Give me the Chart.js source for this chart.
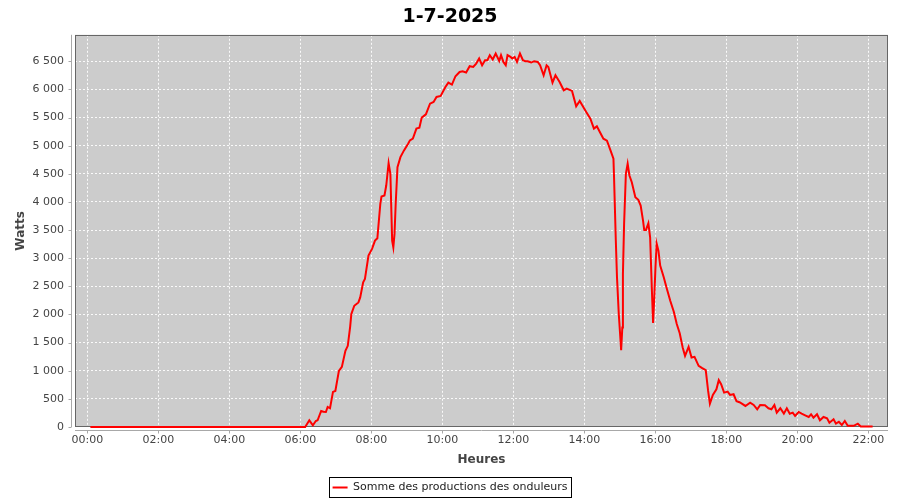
<!DOCTYPE html>
<html>
<head>
<meta charset="utf-8">
<script src="https://cdn.jsdelivr.net/npm/chart.js@4/dist/chart.umd.min.js"></script>
<style>
  html, body { margin: 0; padding: 0; background: #fff; }
  #wrap { width: 900px; height: 500px; }
</style>
</head>
<body>
<div id="wrap"><canvas id="c" width="900" height="500"></canvas></div>
<script>
// Production du 1-7-2025 (heure, watts)
const heures = [
  '00:05', '02:00', '04:00', '06:05', '06:08', '06:15', '06:21', '06:26', '06:29', '06:35',
  '06:39', '06:43', '06:46', '06:50', '06:55', '06:59', '07:05', '07:10', '07:16', '07:20',
  '07:24', '07:26', '07:31', '07:38', '07:41', '07:46', '07:49', '07:55', '08:01', '08:06',
  '08:10', '08:15', '08:17', '08:22', '08:25', '08:29', '08:32', '08:35', '08:37', '08:39',
  '08:41', '08:44', '08:49', '08:55', '09:02', '09:05', '09:10', '09:16', '09:21', '09:25',
  '09:32', '09:39', '09:45', '09:50', '09:57', '10:05', '10:10', '10:16', '10:22', '10:29',
  '10:34', '10:40', '10:46', '10:52', '10:57', '11:02', '11:07', '11:12', '11:16', '11:20',
  '11:25', '11:30', '11:36', '11:39', '11:43', '11:47', '11:50', '11:55', '11:58', '12:02',
  '12:06', '12:11', '12:16', '12:20', '12:24', '12:30', '12:35', '12:41', '12:45', '12:51',
  '12:56', '12:59', '13:06', '13:11', '13:18', '13:25', '13:30', '13:39', '13:46', '13:52',
  '13:58', '14:03', '14:10', '14:16', '14:21', '14:26', '14:32', '14:38', '14:44', '14:49',
  '14:50', '14:53', '14:55', '14:58', '15:01', '15:02', '15:04', '15:05', '15:07', '15:10',
  '15:13', '15:16', '15:20', '15:26', '15:31', '15:35', '15:39', '15:41', '15:44', '15:48',
  '15:51', '15:54', '15:56', '15:58', '16:00', '16:02', '16:05', '16:08', '16:14', '16:19',
  '16:25', '16:31', '16:36', '16:41', '16:46', '16:50', '16:56', '17:01', '17:06', '17:13',
  '17:19', '17:25', '17:29', '17:32', '17:37', '17:43', '17:47', '17:51', '17:56', '18:02',
  '18:06', '18:12', '18:17', '18:22', '18:26', '18:32', '18:40', '18:46', '18:52', '18:57',
  '19:05', '19:11', '19:16', '19:21', '19:25', '19:31', '19:37', '19:42', '19:47', '19:52',
  '19:56', '20:02', '20:07', '20:13', '20:19', '20:23', '20:27', '20:33', '20:38', '20:44',
  '20:50', '20:54', '21:01', '21:05', '21:10', '21:15', '21:20', '21:25', '21:35', '21:42',
  '21:47', '22:07'
];
const watts = [
  0, 0, 0, 0, 0, 119, 30, 107, 119, 285,
  272, 267, 356, 333, 623, 641, 997, 1069, 1354, 1443,
  1780, 2007, 2155, 2214, 2303, 2570, 2630, 3045, 3165, 3313,
  3354, 3966, 4096, 4114, 4292, 4690, 4500, 3313, 3193, 3432,
  3966, 4618, 4796, 4916, 5035, 5094, 5124, 5302, 5320, 5498,
  5557, 5747, 5777, 5865, 5883, 6043, 6121, 6086, 6234, 6310,
  6323, 6299, 6412, 6399, 6459, 6548, 6429, 6519, 6519, 6608,
  6530, 6637, 6506, 6608, 6488, 6429, 6608, 6577, 6548, 6577,
  6488, 6637, 6519, 6501, 6501, 6477, 6501, 6488, 6429, 6251,
  6429, 6399, 6120, 6251, 6132, 5984, 6014, 5972, 5699, 5794,
  5687, 5598, 5480, 5302, 5343, 5242, 5124, 5090, 4916, 4768,
  4440, 3313, 2659, 2007, 1532, 1366, 1769, 2720, 3610, 4500,
  4679, 4470, 4351, 4084, 4037, 3936, 3669, 3503, 3503, 3621,
  3372, 2422, 1850, 2303, 2837, 3260, 3135, 2870, 2660, 2465,
  2244, 2050, 1829, 1665, 1413, 1265, 1425, 1235, 1247, 1086,
  1045, 1010, 641, 415, 570, 671, 832, 760, 611, 629,
  570, 582, 460, 440, 415, 374, 433, 392, 315, 392,
  386, 333, 315, 392, 255, 333, 237, 333, 237, 255,
  196, 267, 237, 208, 178, 226, 166, 226, 119, 178,
  155, 77, 137, 59, 94, 36, 107, 20, 20, 59,
  10, 10
];
const xTicks = ['00:00', '02:00', '04:00', '06:00', '08:00', '10:00', '12:00',
                '14:00', '16:00', '18:00', '20:00', '22:00'];
const yTicks = [0, 500, 1000, 1500, 2000, 2500, 3000, 3500, 4000, 4500, 5000, 5500, 6000, 6500];

function toMin(s) {
  const p = s.split(':');
  return Number(p[0]) * 60 + Number(p[1]);
}
function fmtHeure(v) {
  const h = Math.floor(v / 60), m = v % 60;
  return String(h).padStart(2, '0') + ':' + String(m).padStart(2, '0');
}
function fmtWatts(v) {
  return String(v).replace(/\B(?=(\d{3})+(?!\d))/g, ' ');
}

const points = heures.map((h, i) => ({ x: toMin(h), y: watts[i] }));

const FONT = 'DejaVu Sans';

// fond gris, cadre, axes décalés et cadre de légende
const cadre = {
  id: 'cadre',
  beforeDraw(chart) {
    const { ctx, chartArea: a } = chart;
    ctx.save();
    ctx.fillStyle = '#cccccc';
    ctx.fillRect(a.left, a.top, a.right - a.left, a.bottom - a.top);
    ctx.restore();
  },
  beforeDatasetsDraw(chart) {
    const { ctx, chartArea: a } = chart;
    ctx.save();
    ctx.lineWidth = 1;
    ctx.strokeStyle = '#666666';
    ctx.strokeRect(Math.round(a.left) + 0.5, Math.round(a.top) + 0.5,
                   Math.round(a.right - a.left) - 1, Math.round(a.bottom - a.top) - 1);
    ctx.restore();
  },
  afterDraw(chart) {
    const { ctx, chartArea: a, scales } = chart;
    ctx.save();
    ctx.lineWidth = 1;
    ctx.strokeStyle = '#a8a8a8';
    ctx.beginPath();
    const ax = Math.round(a.left) - 3.5;
    ctx.moveTo(ax, a.top); ctx.lineTo(ax, a.bottom);
    scales.y.ticks.forEach(t => {
      const py = Math.round(scales.y.getPixelForValue(t.value)) + 0.5;
      ctx.moveTo(ax - 3, py); ctx.lineTo(ax, py);
    });
    const ay = Math.round(a.bottom) + 3.5;
    ctx.moveTo(a.left, ay); ctx.lineTo(a.right, ay);
    scales.x.ticks.forEach(t => {
      const px = Math.round(scales.x.getPixelForValue(t.value)) + 0.5;
      ctx.moveTo(px, ay); ctx.lineTo(px, ay + 3);
    });
    ctx.stroke();

    const hb = chart.legend.legendHitBoxes[0];
    if (hb) {
      ctx.strokeStyle = '#000000';
      ctx.strokeRect(Math.round(hb.left) - 3.5, Math.round(hb.top) - 4.5,
                     Math.round(hb.width) + 7, Math.round(hb.height) + 9);
    }
    ctx.restore();
  }
};

new Chart(document.getElementById('c'), {
  type: 'line',
  data: {
    datasets: [{
      label: 'Somme des productions des onduleurs',
      data: points,
      borderColor: '#ff0000',
      backgroundColor: '#ff0000',
      borderWidth: 2,
      pointRadius: 0,
      tension: 0,
      fill: false,
      clip: 2
    }]
  },
  options: {
    responsive: false,
    animation: false,
    layout: { padding: { left: 0, right: 0, top: 0, bottom: -3 } },
    plugins: {
      title: {
        display: true,
        text: '1-7-2025',
        color: '#000000',
        font: { family: FONT, size: 19, weight: 'bold' },
        padding: { top: 6, bottom: 6 }
      },
      legend: {
        position: 'bottom',
        labels: {
          usePointStyle: true,
          pointStyle: 'line',
          pointStyleWidth: 15,
          color: '#222222',
          padding: 10,
          font: { family: FONT, size: 11 }
        }
      },
      tooltip: { enabled: false }
    },
    scales: {
      x: {
        type: 'linear',
        min: -21,
        max: 1353,
        afterBuildTicks: s => { s.ticks = xTicks.map(t => ({ value: toMin(t) })); },
        afterFit: s => { s.height = 45; },
        ticks: {
          padding: 7,
          color: '#444444',
          font: { family: FONT, size: 11 },
          maxRotation: 0,
          callback: v => fmtHeure(v)
        },
        grid: { color: 'rgba(255,255,255,0.9)', drawTicks: false },
        border: { display: false, dash: [2, 2] },
        title: {
          display: true,
          text: 'Heures',
          color: '#444444',
          font: { family: FONT, size: 12, weight: 'bold' },
          padding: { top: 2, bottom: 5 }
        }
      },
      y: {
        min: 0,
        max: 6970,
        afterBuildTicks: s => { s.ticks = yTicks.map(v => ({ value: v })); },
        afterFit: s => { s.width = 75; },
        ticks: {
          padding: 11,
          color: '#444444',
          font: { family: FONT, size: 11 },
          callback: v => fmtWatts(v)
        },
        grid: { color: 'rgba(255,255,255,0.9)', drawTicks: false },
        border: { display: false, dash: [2, 2] },
        title: {
          display: true,
          text: 'Watts',
          color: '#444444',
          font: { family: FONT, size: 12, weight: 'bold' },
          padding: { top: 14, bottom: 2 }
        }
      },
      marge: {
        position: 'right',
        afterFit: s => { s.width = 12; },
        ticks: { display: false },
        grid: { display: false },
        border: { display: false }
      }
    }
  },
  plugins: [cadre]
});
</script>
</body>
</html>
